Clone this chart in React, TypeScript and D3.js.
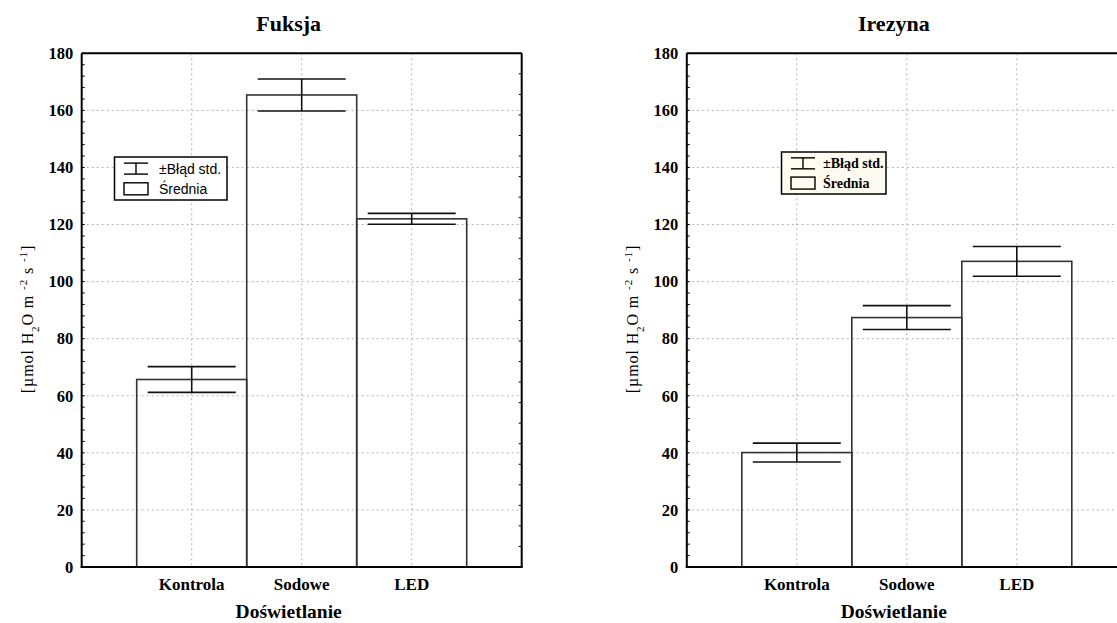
import React from 'react';
import * as d3 from 'd3';

// categories and values
const categories = ['Kontrola', 'Sodowe', 'LED'];
const fuksjaMean = [65.7, 165.4, 122.0];
const fuksjaSE = [4.5, 5.6, 1.9];
const irezynaMean = [40.1, 87.4, 107.1];
const irezynaSE = [3.3, 4.2, 5.2];
const yTicks = [0, 20, 40, 60, 80, 100, 120, 140, 160, 180];
const legendLabels = ['±Błąd std.', 'Średnia'];

const W = 1117;
const H = 623;
const serif = '"Liberation Serif", "Times New Roman", serif';
const sans = '"Liberation Sans", Arial, sans-serif';

type PanelProps = {
  title: string;
  means: number[];
  se: number[];
  left: number;
  legend: { x: number; y: number; w: number; h: number; fill: string; bold: boolean };
};

function Panel({ title, means, se, left, legend }: PanelProps) {
  const unit = 110;
  const top = 53.3;
  const bottom = 567;
  const right = left + 4 * unit;

  const x = d3.scaleLinear().domain([0, 4]).range([left, right]);
  const y = d3.scaleLinear().domain([0, 180]).range([bottom, top]);
  const mid = (left + right) / 2 - 13;

  const minor = d3.range(0, 180.01, 4);
  const rightTicks = d3.range(0, 180.01, 7.2);

  const grid = '#b4b4b4';
  const lg = legend;
  const iconX0 = lg.x + 9.5;
  const iconX1 = lg.x + 33.5;
  const iconMid = (iconX0 + iconX1) / 2;
  const txtX = lg.x + (lg.bold ? 41.5 : 44.5);
  const r1 = lg.y + lg.h * 0.27;
  const r2 = lg.y + lg.h * 0.74;

  return (
    <g>
      <text x={mid} y={31} textAnchor="middle" fontFamily={serif} fontWeight="bold" fontSize={22}>
        {title}
      </text>

      {/* grid */}
      <g stroke={grid} strokeWidth={1} strokeDasharray="2,3">
        {yTicks.filter(t => t > 0 && t < 180).map(t => (
          <line key={'h' + t} x1={left} x2={right} y1={y(t)} y2={y(t)} />
        ))}
        {[1, 2, 3].map(i => (
          <line key={'v' + i} x1={x(i)} x2={x(i)} y1={top} y2={bottom} />
        ))}
      </g>

      {/* bars */}
      {categories.map((c, i) => (
        <rect key={c} x={x(i + 0.5)} y={y(means[i])} width={x(1) - x(0)} height={y(0) - y(means[i])}
          fill="none" stroke="#333" strokeWidth={1.6} />
      ))}

      {/* error bars */}
      <g stroke="#111" strokeWidth={1.6}>
        {categories.map((c, i) => {
          const cx = x(i + 1);
          const hi = y(means[i] + se[i]);
          const lo = y(means[i] - se[i]);
          return (
            <g key={c}>
              <line x1={cx} x2={cx} y1={hi} y2={lo} />
              <line x1={x(i + 0.6)} x2={x(i + 1.4)} y1={hi} y2={hi} />
              <line x1={x(i + 0.6)} x2={x(i + 1.4)} y1={lo} y2={lo} />
            </g>
          );
        })}
      </g>

      {/* frame */}
      <line x1={left} x2={right} y1={top} y2={top} stroke="#000" strokeWidth={2} />
      <line x1={right} x2={right} y1={top} y2={bottom} stroke="#000" strokeWidth={2} />
      <line x1={left} x2={left} y1={top} y2={bottom + 1} stroke="#000" strokeWidth={2} />
      <line x1={left - 1} x2={right + 1} y1={bottom} y2={bottom} stroke="#000" strokeWidth={2} />

      {/* minor ticks */}
      <g stroke="#000" strokeWidth={1}>
        {minor.map(t => (
          <line key={'m' + t} x1={left} x2={left + 3} y1={y(t)} y2={y(t)} />
        ))}
        {rightTicks.map(t => (
          <line key={'r' + t} x1={right - 3} x2={right} y1={y(t)} y2={y(t)} />
        ))}
      </g>

      {/* y tick labels */}
      {yTicks.map(t => (
        <text key={'yl' + t} x={left - 8.5} y={y(t)} dy="0.35em" textAnchor="end"
          fontFamily={serif} fontWeight="bold" fontSize={16.5}>
          {t}
        </text>
      ))}

      {/* x tick labels */}
      {categories.map((c, i) => (
        <text key={'xl' + c} x={x(i + 1)} y={590} textAnchor="middle"
          fontFamily={serif} fontWeight="bold" fontSize={17}>
          {c}
        </text>
      ))}

      <text x={mid} y={618} textAnchor="middle" fontFamily={serif} fontWeight="bold" fontSize={19.5}>
        Doświetlanie
      </text>

      <text transform={`translate(${left - 49},319) rotate(-90)`} textAnchor="middle"
        fontFamily={serif} fontSize={16} letterSpacing={0.9}>
        [µmol H<tspan baselineShift="sub" fontSize={11}>2</tspan>O m <tspan baselineShift="super" fontSize={11}>-2</tspan> s <tspan baselineShift="super" fontSize={11}>-1</tspan>]
      </text>

      {/* legend */}
      <rect x={lg.x} y={lg.y} width={lg.w} height={lg.h} fill={lg.fill} stroke="#000" strokeWidth={1.5} />
      <g stroke="#000" strokeWidth={1.4}>
        <line x1={iconX0} x2={iconX1} y1={r1 - 5.5} y2={r1 - 5.5} />
        <line x1={iconX0} x2={iconX1} y1={r1 + 5.5} y2={r1 + 5.5} />
        <line x1={iconMid} x2={iconMid} y1={r1 - 5.5} y2={r1 + 5.5} />
      </g>
      <rect x={iconX0} y={r2 - 6} width={iconX1 - iconX0} height={12} fill="none" stroke="#000" strokeWidth={1.4} />
      {legendLabels.map((l, i) => (
        <text key={l} x={txtX} y={i === 0 ? r1 : r2} dy="0.35em"
          fontFamily={lg.bold ? serif : sans} fontWeight={lg.bold ? 'bold' : 'normal'}
          fontSize={lg.bold ? 14 : 14}>
          {l}
        </text>
      ))}
    </g>
  );
}

export default function App() {
  return (
    <svg width={W} height={H} style={{ position: 'absolute', left: 0, top: 0, background: '#fff' }}>
      <rect width={W} height={H} fill="#fff" />
      <Panel title="Fuksja" means={fuksjaMean} se={fuksjaSE} left={81.7}
        legend={{ x: 114.5, y: 157, w: 112.5, h: 43, fill: '#fff', bold: false }} />
      <Panel title="Irezyna" means={irezynaMean} se={irezynaSE} left={686.8}
        legend={{ x: 781.5, y: 152, w: 104.5, h: 42, fill: '#fffbf0', bold: true }} />
    </svg>
  );
}
